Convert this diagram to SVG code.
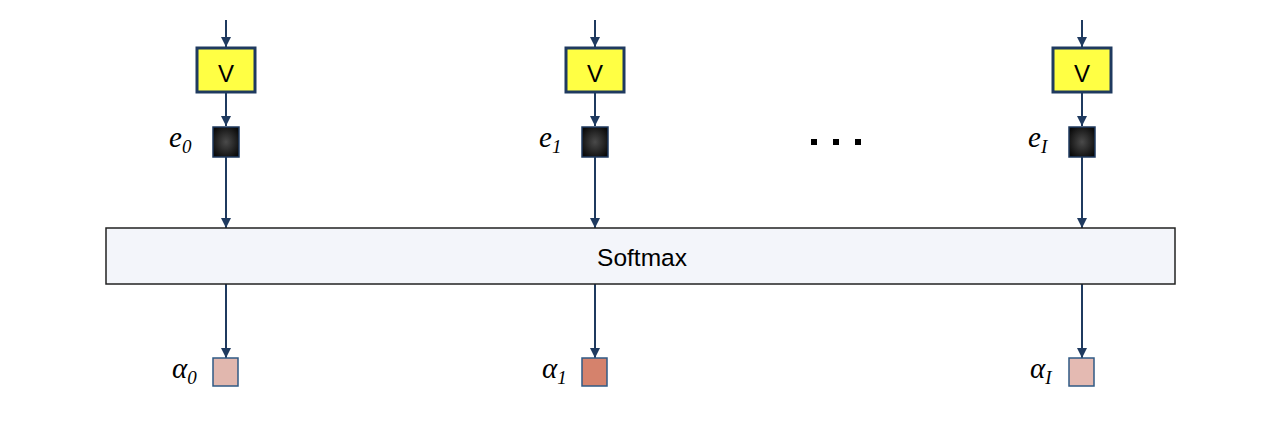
<svg xmlns="http://www.w3.org/2000/svg" width="1268" height="440" viewBox="0 0 1268 440">
<style>
.v{fill:#ffff44;stroke:#1f3a5f;stroke-width:3}
.vt{font-family:"Liberation Sans",Arial,sans-serif;font-size:24px;fill:#000;text-anchor:middle}
.e{fill:url(#dg);stroke:#1f3a5f;stroke-width:1.5}
.lbl{font-family:"Liberation Serif","Times New Roman",serif;font-style:italic;font-size:29px;fill:#000}
.sub{font-size:19px}
.c{stroke:#1f3a5f;stroke-width:2;fill:none;marker-end:url(#ah)}
.a{stroke:#2f5a85;stroke-width:1.5}
</style>
<defs>
<radialGradient id="dg" cx="50%" cy="50%" r="60%">
<stop offset="0" stop-color="#4a4a4a"/>
<stop offset="1" stop-color="#0a0a0a"/>
</radialGradient>
<marker id="ah" markerWidth="10" markerHeight="11" refX="10" refY="5" orient="auto" markerUnits="userSpaceOnUse">
<path d="M0,0 L10,5 L0,10 Z" fill="#1f3a5f"/>
</marker>
</defs>
<rect width="1268" height="440" fill="#fff"/>
<g id="connectors">
<line class="c" x1="226" y1="20" x2="226" y2="47"/>
<line class="c" x1="226" y1="93" x2="226" y2="126"/>
<line class="c" x1="226" y1="157" x2="226" y2="228"/>
<line class="c" x1="226" y1="284" x2="226" y2="358"/>
<line class="c" x1="595" y1="20" x2="595" y2="47"/>
<line class="c" x1="595" y1="93" x2="595" y2="126"/>
<line class="c" x1="595" y1="157" x2="595" y2="228"/>
<line class="c" x1="595" y1="284" x2="595" y2="358"/>
<line class="c" x1="1082" y1="20" x2="1082" y2="47"/>
<line class="c" x1="1082" y1="93" x2="1082" y2="126"/>
<line class="c" x1="1082" y1="157" x2="1082" y2="228"/>
<line class="c" x1="1082" y1="284" x2="1082" y2="358"/>
</g>
<g id="v0"><rect class="v" x="197" y="48" width="58" height="44"/><text class="vt" x="226" y="82">V</text></g>
<g id="v1"><rect class="v" x="566" y="48" width="58" height="44"/><text class="vt" x="595" y="82">V</text></g>
<g id="v2"><rect class="v" x="1053" y="48" width="58" height="44"/><text class="vt" x="1082" y="82">V</text></g>
<g id="e0"><rect class="e" x="213" y="127" width="26" height="30"/><text class="lbl" x="169" y="147">e<tspan class="sub" dy="6">0</tspan></text></g>
<g id="e1"><rect class="e" x="582" y="127" width="26" height="30"/><text class="lbl" x="539" y="147">e<tspan class="sub" dy="6">1</tspan></text></g>
<g id="eI"><rect class="e" x="1069" y="127" width="26" height="30"/><text class="lbl" x="1028" y="147">e<tspan class="sub" dy="6">I</tspan></text></g>
<g id="dots" fill="#000">
<rect x="811" y="139" width="6" height="6"/>
<rect x="833" y="139" width="6" height="6"/>
<rect x="855" y="139" width="6" height="6"/>
</g>
<g id="softmax">
<rect x="106" y="228" width="1069" height="56" fill="#f3f5fa" stroke="#222" stroke-width="1.5"/>
<text x="642" y="266" font-family="'Liberation Sans',Arial,sans-serif" font-size="24.5" text-anchor="middle">Softmax</text>
</g>
<g id="a0"><rect class="a" x="213" y="358" width="25" height="28" fill="#e1b7ae"/><text class="lbl" x="172" y="378">α<tspan class="sub" dy="6">0</tspan></text></g>
<g id="a1"><rect class="a" x="582" y="358" width="25" height="28" fill="#d5826c"/><text class="lbl" x="542" y="378">α<tspan class="sub" dy="6">1</tspan></text></g>
<g id="aI"><rect class="a" x="1069" y="358" width="25" height="28" fill="#e4bab2"/><text class="lbl" x="1030" y="378">α<tspan class="sub" dy="6">I</tspan></text></g>
</svg>
